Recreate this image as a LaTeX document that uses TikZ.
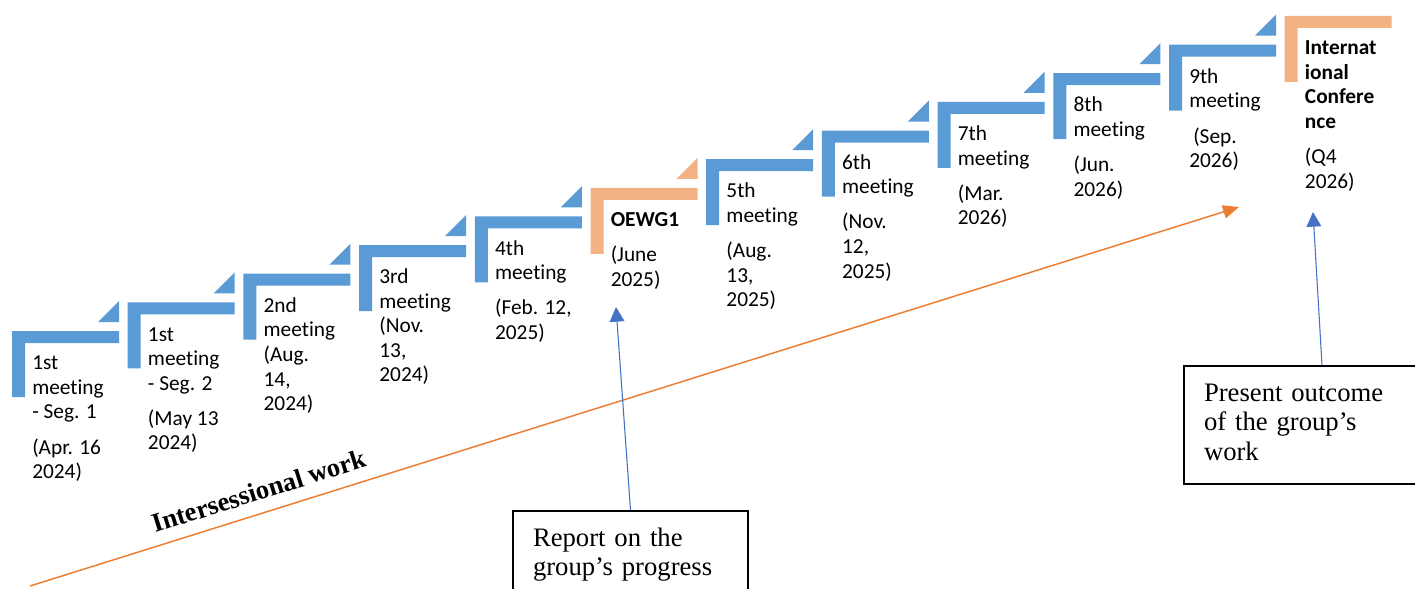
\documentclass[tikz,border=0pt]{standalone}
\usepackage{fontspec}
\setmainfont{Carlito}[Ligatures={NoCommon}]
\newfontfamily\tnr{Liberation Serif}
\usetikzlibrary{arrows.meta,calc}
\definecolor{stepblue}{HTML}{5B9BD5}
\definecolor{steporange}{HTML}{F4B183}
\definecolor{arrowblue}{HTML}{4472C4}
\definecolor{arroworange}{HTML}{ED7D31}
\newcommand{\mystep}[5]{%
  \pgfmathsetmacro{\stepL}{12+115.7*#1}%
  \pgfmathsetmacro{\stepT}{331-28.64*#1}%
  \fill[#2] (\stepL,\stepT) -- ++(107,0) -- ++(0,12) -- ++(-94,0) -- ++(0,54) -- ++(-13,0) -- cycle;
  \ifnum#5=1 \fill[#2] (\stepL+86,\stepT-9) -- (\stepL+107,\stepT-9) -- (\stepL+107,\stepT-30) -- cycle;\fi
  \node[steptext] (#3) at (\stepL+20,\stepT+21.3) {\begin{tabular}{@{}l@{}}#4\end{tabular}};
}
\begin{document}
\begin{tikzpicture}[x=0.75pt,y=-0.75pt,
  steptext/.style={anchor=north west,inner sep=0pt,font=\fontsize{16}{18.4}\selectfont},
  outbox/.style={draw=black,line width=1.5pt,fill=white,anchor=north west,inner xsep=15pt,inner ysep=11.25pt,align=left,font=\tnr\fontsize{20}{22}\selectfont},
  bluearrow/.style={draw=arrowblue,line width=0.8pt,-{Triangle[length=11pt,width=11pt]}},
  orangearrow/.style={draw=arroworange,line width=1.1pt,-{Triangle[length=12pt,width=10pt]}},
  sidelabel/.style={anchor=base west,inner sep=0pt,rotate=17.4,font=\tnr\bfseries\fontsize{20}{24}\selectfont}]
\clip (0,0) rectangle (1415,589);
\fill[white] (0,0) rectangle (1415,589);
\mystep{0}{stepblue}{s1}{1st\\meeting\\- Seg. 1\\[8pt](Apr. 16\\2024)}{1}
\mystep{1}{stepblue}{s2}{1st\\meeting\\- Seg. 2\\[8pt](May 13\\2024)}{1}
\mystep{2}{stepblue}{s3}{2nd\\meeting\\(Aug.\\14,\\2024)}{1}
\mystep{3}{stepblue}{s4}{3rd\\meeting\\(Nov.\\13,\\2024)}{1}
\mystep{4}{stepblue}{s5}{4th\\meeting\\[8pt](Feb. 12,\\2025)}{1}
\mystep{5}{steporange}{s6}{\textbf{OEWG1}\\[8pt](June\\2025)}{1}
\mystep{6}{stepblue}{s7}{5th\\meeting\\[8pt](Aug.\\13,\\2025)}{1}
\mystep{7}{stepblue}{s8}{6th\\meeting\\[8pt](Nov.\\12,\\2025)}{1}
\mystep{8}{stepblue}{s9}{7th\\meeting\\[8pt](Mar.\\2026)}{1}
\mystep{9}{stepblue}{s10}{8th\\meeting\\[8pt](Jun.\\2026)}{1}
\mystep{10}{stepblue}{s11}{9th\\meeting\\[8pt]\hspace{3pt}(Sep.\\2026)}{1}
\mystep{11}{steporange}{s12}{\textbf{Internat}\\\textbf{ional}\\\textbf{Confere}\\\textbf{nce}\\[8pt](Q4\\2026)}{0}
\coordinate (ow0) at (30,586);
\coordinate (ow1) at (1239,207);
\draw[orangearrow] (ow0) -- (ow1);
\node[sidelabel] (iw) at (155,533) {Intersessional work};
\node[outbox,text width=146.25pt] (rep) at (512,510) {\strut Report on the\\\strut group’s progress};
\node[outbox,text width=177pt] (out) at (1183,365) {\strut Present outcome\\\strut of the group’s\\\strut work};
\coordinate (tip1) at (616,307);
\coordinate (tip2) at (1313,212);
\draw[bluearrow] (rep.north) -- (tip1);
\draw[bluearrow] (out.north) -- (tip2);
\end{tikzpicture}
\end{document}
